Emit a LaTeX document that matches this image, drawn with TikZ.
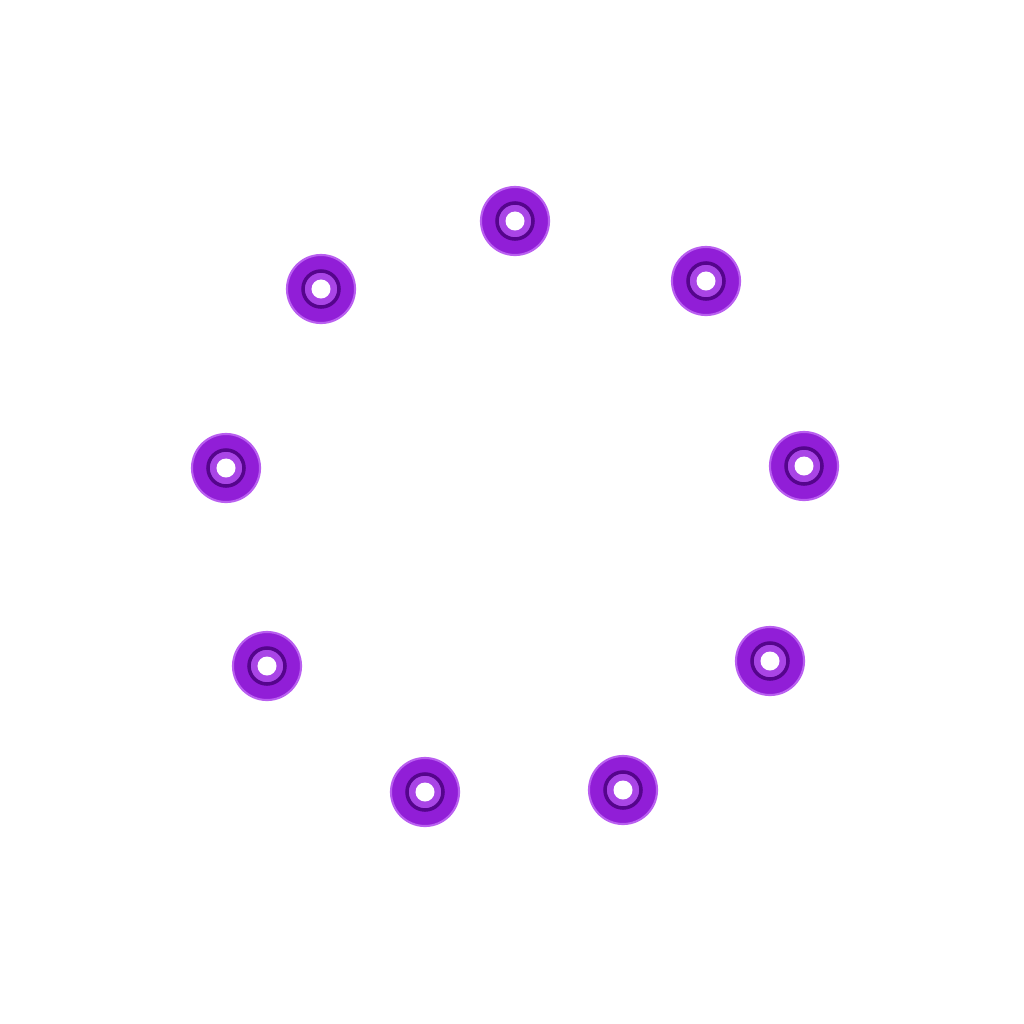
\documentclass[tikz,border=0pt]{standalone}
\usetikzlibrary{positioning}
\definecolor{washer}{RGB}{145,30,215}
\definecolor{washerdark}{RGB}{85,5,140}
\definecolor{washerlight}{RGB}{185,95,240}
\tikzset{
  outerring/.style={circle,fill=washer,draw=washerlight,line width=0.6pt,minimum size=0.68cm,inner sep=0pt},
  innerring/.style={circle,fill=washerlight!60!washer,draw=washerdark,line width=1pt,minimum size=0.36cm,inner sep=0pt},
  hole/.style={circle,fill=white,minimum size=0.19cm,inner sep=0pt}
}
\begin{document}
\begin{tikzpicture}[x=0.01cm,y=-0.01cm]
  \useasboundingbox (0,0) rectangle (1024,1024);
  %Washers placed round the circle
  \foreach \name/\x/\y in {w1/515/221,w2/706/281,w3/804/466,w4/770/661,w5/623/790,w6/425/792,w7/267/666,w8/226/468,w9/321/289} {
    \node [outerring] (\name) at (\x,\y) {};
    \node [innerring] (\name in) at (\name) {};
    \node [hole] (\name hole) at (\name) {};
  }
\end{tikzpicture}
\end{document}
